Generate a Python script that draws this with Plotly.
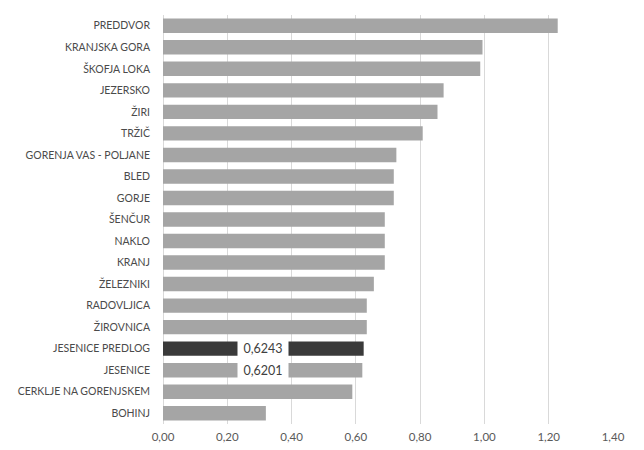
import plotly.graph_objects as go

categories = ["PREDDVOR", "KRANJSKA GORA", "ŠKOFJA LOKA", "JEZERSKO", "ŽIRI", "TRŽIČ",
              "GORENJA VAS - POLJANE", "BLED", "GORJE", "ŠENČUR", "NAKLO", "KRANJ",
              "ŽELEZNIKI", "RADOVLJICA", "ŽIROVNICA", "JESENICE PREDLOG", "JESENICE",
              "CERKLJE NA GORENJSKEM", "BOHINJ"]
values = [1.228, 0.994, 0.987, 0.873, 0.854, 0.808,
          0.726, 0.718, 0.718, 0.690, 0.690, 0.690,
          0.656, 0.634, 0.634, 0.6243, 0.6201,
          0.589, 0.320]
highlight = "JESENICE PREDLOG"
labelled = ["JESENICE PREDLOG", "JESENICE"]
x_ticks = [0.0, 0.2, 0.4, 0.6, 0.8, 1.0, 1.2, 1.4]
x_tick_labels = ["0,00", "0,20", "0,40", "0,60", "0,80", "1,00", "1,20", "1,40"]

colors = ["#3A3A3A" if c == highlight else "#A5A5A5" for c in categories]

fig = go.Figure(go.Bar(
    x=values, y=categories, orientation="h",
    marker=dict(color=colors, line=dict(width=0)),
    hoverinfo="skip",
))

for c, v in zip(categories, values):
    if c in labelled:
        fig.add_annotation(
            x=v / 2, y=c, xref="x", yref="y",
            text=f"{v:.4f}".replace(".", ","),
            showarrow=False, bgcolor="white",
            width=48, height=17,
            font=dict(family="Lato, 'Open Sans', sans-serif", size=12.5, color="#404040"),
        )

# right outer chart border line
fig.add_shape(type="line", xref="paper", yref="paper",
              x0=1.0654, x1=1.0654, y0=-0.2, y1=1.2,
              line=dict(color="#D9D9D9", width=1))

fig.update_layout(
    width=636, height=442,
    margin=dict(l=154.5, r=30.5, t=7, b=26, autoexpand=False),
    plot_bgcolor="white", paper_bgcolor="white",
    bargap=0.33, showlegend=False,
    font=dict(family="Lato, 'Open Sans', sans-serif", color="#595959"),
    xaxis=dict(range=[0, 1.4], tickvals=x_ticks, ticktext=x_tick_labels,
               showgrid=True, gridcolor="#D9D9D9", gridwidth=1,
               zeroline=True, zerolinecolor="#D9D9D9", zerolinewidth=1,
               showline=False, tickfont=dict(size=11.5, color="#595959"),
               ticks="", ticklabelstandoff=4, fixedrange=True, automargin=False),
    yaxis=dict(autorange="reversed", showgrid=False, showline=False,
               tickfont=dict(size=10.5, color="#4A4A4A"), ticks="",
               ticklabelstandoff=12, fixedrange=True, automargin=False),
)

fig.write_html("out.html")
